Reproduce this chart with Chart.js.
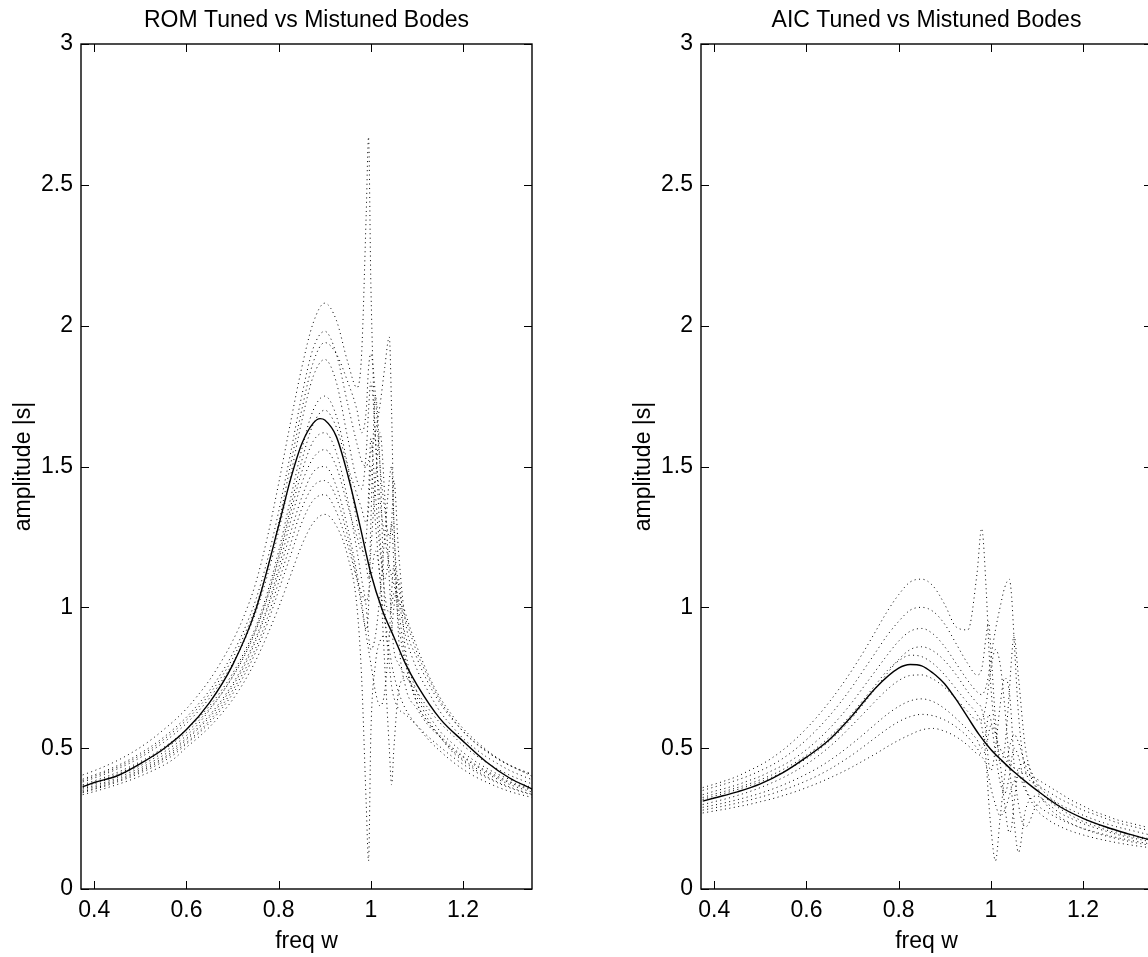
<!DOCTYPE html>
<html>
<head>
<meta charset="utf-8">
<script src="https://cdn.jsdelivr.net/npm/chart.js@4.4.0/dist/chart.umd.min.js"></script>
<style>
html, body { margin: 0; padding: 0; background: #fff; overflow: hidden; }
#wrap { position: relative; width: 1148px; height: 957px; overflow: hidden; }
canvas { position: absolute; top: 0; }
#romChart { left: 0; }
#aicChart { left: 620px; }
</style>
</head>
<body>
<div id="wrap">
<canvas id="romChart" width="574" height="957"></canvas>
<canvas id="aicChart" width="574" height="957"></canvas>
</div>
<script>
// axis ticks
const xTicks = [0.4, 0.6, 0.8, 1, 1.2];
const yTicks = [0, 0.5, 1, 1.5, 2, 2.5, 3];

// tuned response (solid)
const wTuned = [0.375, 0.40, 0.45, 0.50, 0.55, 0.60, 0.65, 0.70, 0.75, 0.80, 0.825, 0.85, 0.875, 0.89,
    0.90, 0.925, 0.95, 0.975, 1.00, 1.025, 1.05, 1.075, 1.10, 1.15, 1.20, 1.25, 1.30, 1.35];
const romTuned = [0.363, 0.378, 0.402, 0.445, 0.497, 0.566, 0.662, 0.795, 0.99, 1.29, 1.45, 1.58, 1.654, 1.670,
    1.665, 1.607, 1.47, 1.30, 1.12, 0.99, 0.895, 0.80, 0.725, 0.605, 0.525, 0.452, 0.395, 0.355];
const aicTuned = [0.312, 0.323, 0.345, 0.373, 0.414, 0.468, 0.531, 0.617, 0.714, 0.784, 0.797, 0.792, 0.766, 0.745,
    0.728, 0.672, 0.609, 0.547, 0.495, 0.454, 0.416, 0.382, 0.350, 0.292, 0.251, 0.220, 0.195, 0.172];

// mistuned responses (dotted)
const wMis = [0.375, 0.40, 0.425, 0.45, 0.475, 0.50, 0.525, 0.55, 0.575, 0.60, 0.625, 0.65, 0.675, 0.70, 0.725,
    0.75, 0.775, 0.80, 0.825, 0.85, 0.875, 0.90, 0.925, 0.95, 0.97, 0.98, 0.99, 0.995, 1.00, 1.01, 1.02, 1.03,
    1.04, 1.045, 1.05, 1.06, 1.075, 1.10, 1.125, 1.15, 1.175, 1.20, 1.225, 1.25, 1.275, 1.30, 1.325, 1.35];

const romMis1 = [0.405,0.42,0.437,0.456,0.478, 0.503,0.532,0.565,0.60,0.64, 0.688,0.742,0.806,0.88,0.97,
    1.085,1.245,1.44,1.65,1.85, 2.01,2.08,2.02,1.87,1.78, 1.9,2.4,2.67,2.15,1.6, 1.38,1.25,1.15,1.11,1.08,
    1.03,0.96,0.84,0.75,0.67, 0.61,0.56,0.52,0.49,0.462, 0.44,0.423,0.408];
const romMis2 = [0.39,0.405,0.42,0.438,0.458, 0.482,0.508,0.538,0.572,0.61, 0.655,0.705,0.765,0.835,0.92,
    1.025,1.165,1.34,1.54,1.75, 1.92,1.98,1.9,1.72,1.58, 1.52,1.5,1.52,1.55,1.62, 1.72,1.85,1.96,1.7,1.3,
    1.08,0.98,0.86,0.76,0.68, 0.62,0.57,0.53,0.495,0.465, 0.44,0.42,0.40];
const romMis3 = [0.38,0.394,0.409,0.426,0.445, 0.467,0.492,0.52,0.552,0.588, 0.63,0.678,0.735,0.80,0.88,
    0.98,1.11,1.27,1.46,1.66, 1.82,1.88,1.8,1.6,1.45, 1.42,1.55,1.7,1.8,1.6, 1.25,1.05,0.98,1.0,1.05,
    1.02,0.9,0.78,0.7,0.63, 0.58,0.535,0.5,0.47,0.445, 0.422,0.404,0.388];
const romMis4 = [0.37,0.384,0.398,0.414,0.432, 0.452,0.475,0.502,0.532,0.566, 0.605,0.65,0.703,0.765,0.84,
    0.93,1.05,1.2,1.38,1.56, 1.7,1.75,1.68,1.5,1.3, 1.22,1.15,1.1,1.2,1.45, 1.62,1.4,1.1,0.95,0.85,
    0.8,0.76,0.7,0.64,0.59, 0.55,0.51,0.478,0.45,0.426, 0.405,0.388,0.373];
const romMis5 = [0.36,0.373,0.387,0.402,0.419, 0.438,0.46,0.485,0.513,0.545, 0.585,0.635,0.69,0.752,0.825,
    0.915,1.03,1.17,1.33,1.48, 1.59,1.62,1.55,1.38,1.2, 1.1,1.0,0.9,0.85,0.9, 1.05,1.25,1.45,1.5,1.3,
    0.9,0.72,0.64,0.58,0.54, 0.5,0.468,0.44,0.416,0.395, 0.378,0.363,0.35];
const romMis6 = [0.35,0.362,0.375,0.389,0.405, 0.423,0.443,0.466,0.495,0.53, 0.568,0.61,0.66,0.72,0.79,
    0.88,0.99,1.12,1.26,1.39, 1.48,1.5,1.43,1.28,1.12, 1.02,0.92,1.0,1.3,1.75, 1.5,1.0,0.8,0.72,0.68,
    0.64,0.62,0.58,0.54,0.505, 0.472,0.443,0.418,0.396,0.377, 0.36,0.346,0.334];
const romMis7 = [0.342,0.354,0.366,0.38,0.395, 0.412,0.431,0.453,0.48,0.515, 0.55,0.59,0.637,0.692,0.758,
    0.84,0.94,1.06,1.18,1.3, 1.38,1.4,1.34,1.22,1.1, 1.05,1.02,1.05,1.1,1.2, 1.1,0.8,0.5,0.37,0.5,
    0.7,0.75,0.68,0.6,0.54, 0.49,0.455,0.425,0.4,0.38, 0.363,0.348,0.336];
const romMis8 = [0.335,0.346,0.358,0.371,0.385, 0.401,0.419,0.439,0.465,0.503, 0.537,0.575,0.62,0.672,0.735,
    0.81,0.9,1.0,1.11,1.22, 1.3,1.33,1.29,1.18,1.0, 0.75,0.3,0.1,0.55,0.8, 0.88,0.9,0.85,0.8,0.76,
    0.7,0.64,0.58,0.53,0.49, 0.455,0.425,0.4,0.38,0.362, 0.347,0.335,0.325];
const romMis9 = [0.385,0.4,0.415,0.432,0.452, 0.475,0.5,0.53,0.563,0.6, 0.643,0.692,0.75,0.818,0.9,
    1.0,1.135,1.3,1.5,1.7, 1.87,1.94,1.9,1.8,1.7, 1.62,1.7,1.85,1.9,1.75, 1.5,1.35,1.25,1.3,1.45,
    1.2,0.95,0.82,0.73,0.66, 0.605,0.56,0.522,0.49,0.463, 0.44,0.421,0.405];
const romMis10 = [0.365,0.378,0.392,0.408,0.426, 0.446,0.468,0.494,0.523,0.556, 0.595,0.64,0.692,0.755,0.83,
    0.92,1.035,1.18,1.35,1.52, 1.65,1.7,1.64,1.5,1.4, 1.35,1.3,1.35,1.5,1.3, 1.1,0.95,0.9,0.92,1.0,
    1.1,0.85,0.7,0.62,0.56, 0.52,0.485,0.455,0.43,0.408, 0.39,0.374,0.36];
const romMis11 = [0.355,0.367,0.38,0.395,0.412, 0.43,0.451,0.475,0.503,0.535, 0.573,0.617,0.668,0.728,0.8,
    0.89,1.0,1.14,1.3,1.44, 1.53,1.56,1.5,1.36,1.25, 1.2,1.25,1.4,1.6,1.4, 1.2,1.1,1.2,1.3,1.15,
    0.95,0.8,0.66,0.59,0.545, 0.505,0.472,0.444,0.42,0.4, 0.382,0.367,0.354];
const romMis12 = [0.345,0.357,0.37,0.384,0.4, 0.418,0.438,0.461,0.488,0.52, 0.556,0.598,0.647,0.705,0.773,
    0.855,0.96,1.09,1.22,1.35, 1.43,1.45,1.39,1.25,1.1, 1.0,0.9,0.85,0.8,0.7, 0.65,0.7,0.9,1.05,1.15,
    1.0,0.82,0.66,0.59,0.54, 0.495,0.46,0.432,0.41,0.39, 0.372,0.357,0.344];

const aicMis1 = [0.36,0.372,0.385,0.40,0.42, 0.44,0.465,0.495,0.53,0.57, 0.615,0.665,0.72,0.78,0.845,
    0.915,0.985,1.045,1.09,1.10, 1.075,1.01,0.93,0.92,1.12, 1.28,1.06,0.88,0.72,0.56, 0.50,0.47,0.45,0.44,0.43,
    0.42,0.41,0.39,0.365,0.34, 0.315,0.295,0.275,0.26,0.245, 0.235,0.225,0.215];
const aicMis2 = [0.335,0.347,0.358,0.37,0.385, 0.40,0.42,0.44,0.465,0.495, 0.53,0.57,0.615,0.665,0.72,
    0.775,0.83,0.88,0.915,0.925, 0.905,0.86,0.80,0.74,0.70, 0.69,0.72,0.76,0.82,0.92, 1.00,1.07,1.10,1.04,0.90,
    0.62,0.42,0.37,0.345,0.32, 0.30,0.28,0.265,0.25,0.235, 0.225,0.215,0.205];
const aicMis3 = [0.325,0.337,0.348,0.36,0.373, 0.388,0.405,0.425,0.448,0.475, 0.505,0.54,0.58,0.625,0.675,
    0.725,0.775,0.81,0.83,0.825, 0.80,0.76,0.71,0.66,0.62, 0.58,0.45,0.32,0.22,0.10, 0.25,0.40,0.50,0.53,0.55,
    0.52,0.44,0.36,0.315,0.285, 0.26,0.24,0.225,0.21,0.198, 0.188,0.18,0.172];
const aicMis4 = [0.30,0.31,0.32,0.332,0.345, 0.36,0.377,0.396,0.418,0.443, 0.472,0.505,0.542,0.583,0.625,
    0.668,0.708,0.74,0.758,0.76, 0.745,0.715,0.675,0.63,0.60, 0.60,0.66,0.72,0.78,0.85, 0.80,0.65,0.45,0.35,0.25,
    0.13,0.28,0.33,0.30,0.27, 0.25,0.232,0.218,0.205,0.193, 0.183,0.175,0.167];
const aicMis5 = [0.29,0.298,0.307,0.317,0.328, 0.34,0.354,0.37,0.388,0.408, 0.43,0.456,0.485,0.517,0.551,
    0.586,0.62,0.648,0.668,0.675, 0.665,0.64,0.605,0.565,0.53, 0.50,0.56,0.62,0.60,0.48, 0.38,0.34,0.40,0.46,0.50,
    0.47,0.36,0.30,0.27,0.248, 0.23,0.215,0.203,0.192,0.182, 0.174,0.166,0.159];
const aicMis6 = [0.27,0.277,0.284,0.292,0.30, 0.31,0.32,0.332,0.345,0.36, 0.376,0.394,0.413,0.434,0.457,
    0.48,0.505,0.528,0.548,0.565, 0.57,0.56,0.54,0.51,0.48, 0.47,0.44,0.40,0.36,0.30, 0.26,0.28,0.33,0.36,0.38,
    0.40,0.35,0.28,0.245,0.222, 0.205,0.192,0.181,0.172,0.164, 0.157,0.151,0.146];
const aicMis7 = [0.35,0.362,0.374,0.387,0.402, 0.42,0.44,0.465,0.495,0.53, 0.57,0.615,0.665,0.72,0.78,
    0.84,0.9,0.95,0.99,1.0, 0.985,0.94,0.87,0.8,0.76, 0.78,0.9,0.95,0.85,0.6, 0.45,0.5,0.7,0.82,0.9,
    0.75,0.5,0.38,0.33,0.3, 0.28,0.262,0.246,0.232,0.22, 0.21,0.2,0.19];
const aicMis8 = [0.318,0.33,0.341,0.353,0.366, 0.38,0.397,0.416,0.438,0.463, 0.492,0.526,0.565,0.61,0.66,
    0.712,0.765,0.815,0.85,0.86, 0.845,0.81,0.76,0.7,0.66, 0.64,0.55,0.45,0.42,0.5, 0.65,0.75,0.7,0.6,0.45,
    0.3,0.22,0.3,0.32,0.295, 0.27,0.25,0.233,0.218,0.205, 0.194,0.185,0.176];
const aicMis9 = [0.28,0.288,0.296,0.305,0.315, 0.326,0.338,0.352,0.367,0.384, 0.403,0.425,0.45,0.477,0.507,
    0.538,0.568,0.594,0.612,0.62, 0.615,0.6,0.575,0.54,0.5, 0.48,0.5,0.55,0.58,0.55, 0.45,0.3,0.2,0.22,0.3,
    0.42,0.45,0.35,0.29,0.255, 0.232,0.214,0.2,0.188,0.178, 0.169,0.161,0.154];

Chart.defaults.font.family = '"Liberation Sans", Arial, Helvetica, sans-serif';
Chart.defaults.font.size = 23;
Chart.defaults.color = '#000';

// box round the plot with inward ticks on all four sides
const frameTicks = {
    id: 'frameTicks',
    afterDatasetsDraw(chart) {
        const { ctx, chartArea: a, scales } = chart;
        ctx.save();
        ctx.strokeStyle = '#000';
        ctx.lineWidth = 1;
        ctx.beginPath();
        xTicks.forEach(v => {
            const px = Math.round(scales.x.getPixelForValue(v)) + 0.5;
            ctx.moveTo(px, a.bottom); ctx.lineTo(px, a.bottom - 8);
            ctx.moveTo(px, a.top); ctx.lineTo(px, a.top + 8);
        });
        yTicks.forEach(v => {
            const py = Math.round(scales.y.getPixelForValue(v)) + 0.5;
            ctx.moveTo(a.left, py); ctx.lineTo(a.left + 8, py);
            ctx.moveTo(a.right, py); ctx.lineTo(a.right - 8, py);
        });
        ctx.stroke();
        ctx.lineWidth = 1.4;
        ctx.strokeRect(a.left, a.top, a.right - a.left, a.bottom - a.top);
        ctx.restore();
    }
};

function makeChart(id, title, tuned, mistuned) {
    const datasets = [{
        data: wTuned.map((w, i) => ({ x: w, y: tuned[i] })),
        borderColor: '#000',
        borderWidth: 1.4,
        order: 0
    }];
    mistuned.forEach(s => {
        datasets.push({
            data: wMis.map((w, i) => ({ x: w, y: s[i] })),
            borderColor: '#000',
            borderWidth: 1,
            borderDash: [1, 3.5],
            order: 1
        });
    });

    return new Chart(document.getElementById(id), {
        type: 'line',
        data: { datasets },
        options: {
            responsive: false,
            animation: false,
            layout: { padding: { right: 42 } },
            elements: {
                point: { radius: 0 },
                line: { cubicInterpolationMode: 'monotone' }
            },
            plugins: {
                legend: { display: false },
                tooltip: { enabled: false },
                title: {
                    display: true,
                    text: title,
                    fullSize: false,
                    color: '#000',
                    font: { size: 23, weight: 'normal' },
                    padding: { top: 7, bottom: 9.4 }
                }
            },
            scales: {
                x: {
                    type: 'linear',
                    min: 0.3712,
                    max: 1.3496,
                    grid: { display: false, drawTicks: false },
                    border: { display: false },
                    afterBuildTicks: s => { s.ticks = xTicks.map(v => ({ value: v })); },
                    afterFit: s => { s.height = 68; },
                    ticks: { padding: 8, maxRotation: 0, autoSkip: false, callback: v => String(v) },
                    title: { display: true, text: 'freq w', padding: { top: 0, bottom: 2 } }
                },
                y: {
                    min: 0,
                    max: 3,
                    grid: { display: false, drawTicks: false },
                    border: { display: false },
                    afterBuildTicks: s => { s.ticks = yTicks.map(v => ({ value: v })); },
                    afterFit: s => { s.width = 81; },
                    ticks: { padding: 8, autoSkip: false, callback: v => String(v) },
                    title: { display: true, text: 'amplitude |s|', padding: { top: 10, bottom: 0 } }
                }
            }
        },
        plugins: [frameTicks]
    });
}

makeChart('romChart', 'ROM Tuned vs Mistuned Bodes', romTuned,
    [romMis1, romMis2, romMis3, romMis4, romMis5, romMis6, romMis7, romMis8, romMis9, romMis10, romMis11, romMis12]);
makeChart('aicChart', 'AIC Tuned vs Mistuned Bodes', aicTuned,
    [aicMis1, aicMis2, aicMis3, aicMis4, aicMis5, aicMis6, aicMis7, aicMis8, aicMis9]);
</script>
</body>
</html>
